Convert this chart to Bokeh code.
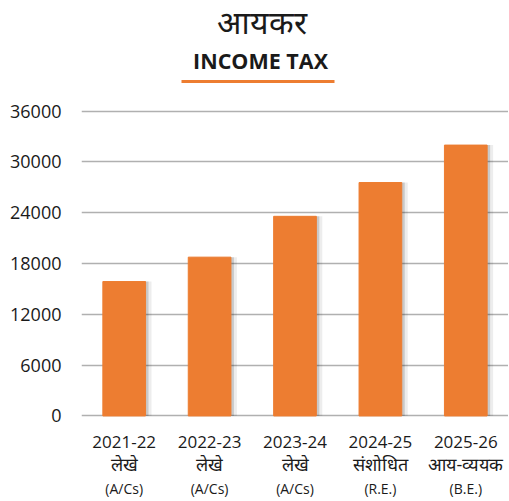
from bokeh.plotting import figure
from bokeh.models import (FixedTicker, CategoricalAxis, Range1d, FactorRange,
                          ColumnDataSource, CustomJSTickFormatter)
from bokeh.transform import dodge
from bokeh.layouts import column
from bokeh.core.properties import value
from bokeh.embed import file_html
from bokeh.resources import INLINE

# ---- data ----
years = ["2021-22", "2022-23", "2023-24", "2024-25", "2025-26"]
hindi_labels = ["लेखे", "लेखे", "लेखे", "संशोधित", "आय-व्ययक"]
note_labels = ["(A/Cs)", "(A/Cs)", "(A/Cs)", "(R.E.)", "(B.E.)"]
values = [15870, 18750, 23570, 27560, 31980]
y_ticks = [0, 6000, 12000, 18000, 24000, 30000, 36000]
title_hi = "आयकर"
title_en = "INCOME TAX"

ORANGE = "#ED7D31"
FONT = "Open Sans"
TXT = "#1a1a1a"
W = 508
LEFT = 81
HEAD_H = 95

# ---- header ----
h = figure(width=W, height=HEAD_H, x_range=Range1d(LEFT, W), y_range=Range1d(HEAD_H, 0),
           toolbar_location=None, output_backend="svg",
           min_border_left=LEFT, min_border_right=0, min_border_top=0, min_border_bottom=0,
           x_axis_location=None, y_axis_location=None)
h.grid.visible = False
h.outline_line_color = None
h.text(x=[261], y=[21], text=[title_hi], text_align="center", text_baseline="middle",
       text_font_size="32px", text_font=value(FONT), text_color=TXT)
h.text(x=[260], y=[60], text=[title_en], text_align="center", text_baseline="middle",
       text_font_size="21.5px", text_font_style="bold", text_font=value(FONT), text_color=TXT)
h.segment(x0=[181], y0=[81], x1=[334], y1=[81], line_width=3, line_color=ORANGE)

# ---- chart ----
src = ColumnDataSource(dict(x=years, top=values))
p = figure(width=W, height=500 - HEAD_H, x_range=FactorRange(factors=years),
           y_range=Range1d(-300, 36300), toolbar_location=None, output_backend="svg",
           min_border_left=LEFT, min_border_right=0, min_border_top=13, min_border_bottom=82,
           x_axis_location=None)
p.outline_line_color = None
p.xgrid.visible = False
p.ygrid.ticker = FixedTicker(ticks=y_ticks)
p.ygrid.grid_line_color = "#B0B0B0"
p.ygrid.grid_line_width = 1.5

p.yaxis.ticker = FixedTicker(ticks=y_ticks)
p.yaxis.axis_line_color = None
p.yaxis.major_tick_line_color = None
p.yaxis.minor_tick_line_color = None
p.yaxis.major_label_standoff = 14
p.yaxis.major_label_text_font_size = "18px"
p.yaxis.major_label_text_font = FONT
p.yaxis.major_label_text_color = TXT

# shadows
p.vbar(x=dodge("x", 0.07, range=p.x_range), top="top", width=0.5, source=src,
       fill_color="#000000", fill_alpha=0.07, line_color=None)
p.vbar(x=dodge("x", 0.035, range=p.x_range), top="top", width=0.5, source=src,
       fill_color="#000000", fill_alpha=0.15, line_color=None)
p.vbar(x="x", top="top", width=0.5, source=src, fill_color=ORANGE, line_color=ORANGE)


def make_axis(labels, size, standoff):
    ax = CategoricalAxis()
    ax.axis_line_color = None
    ax.major_tick_line_color = None
    ax.minor_tick_line_color = None
    ax.major_label_standoff = standoff
    ax.major_label_text_font_size = size
    ax.major_label_text_font = FONT
    ax.major_label_text_color = TXT
    if labels is not None:
        ax.formatter = CustomJSTickFormatter(
            args=dict(keys=years, labels=labels),
            code="const i = keys.indexOf(tick); return i >= 0 ? labels[i] : tick;")
    return ax


p.add_layout(make_axis(None, "17px", 11), "below")
p.add_layout(make_axis(hindi_labels, "18px", -5), "below")
p.add_layout(make_axis(note_labels, "14px", -6), "below")

layout = column(h, p)
open("out.html", "w").write(file_html(layout, INLINE))
